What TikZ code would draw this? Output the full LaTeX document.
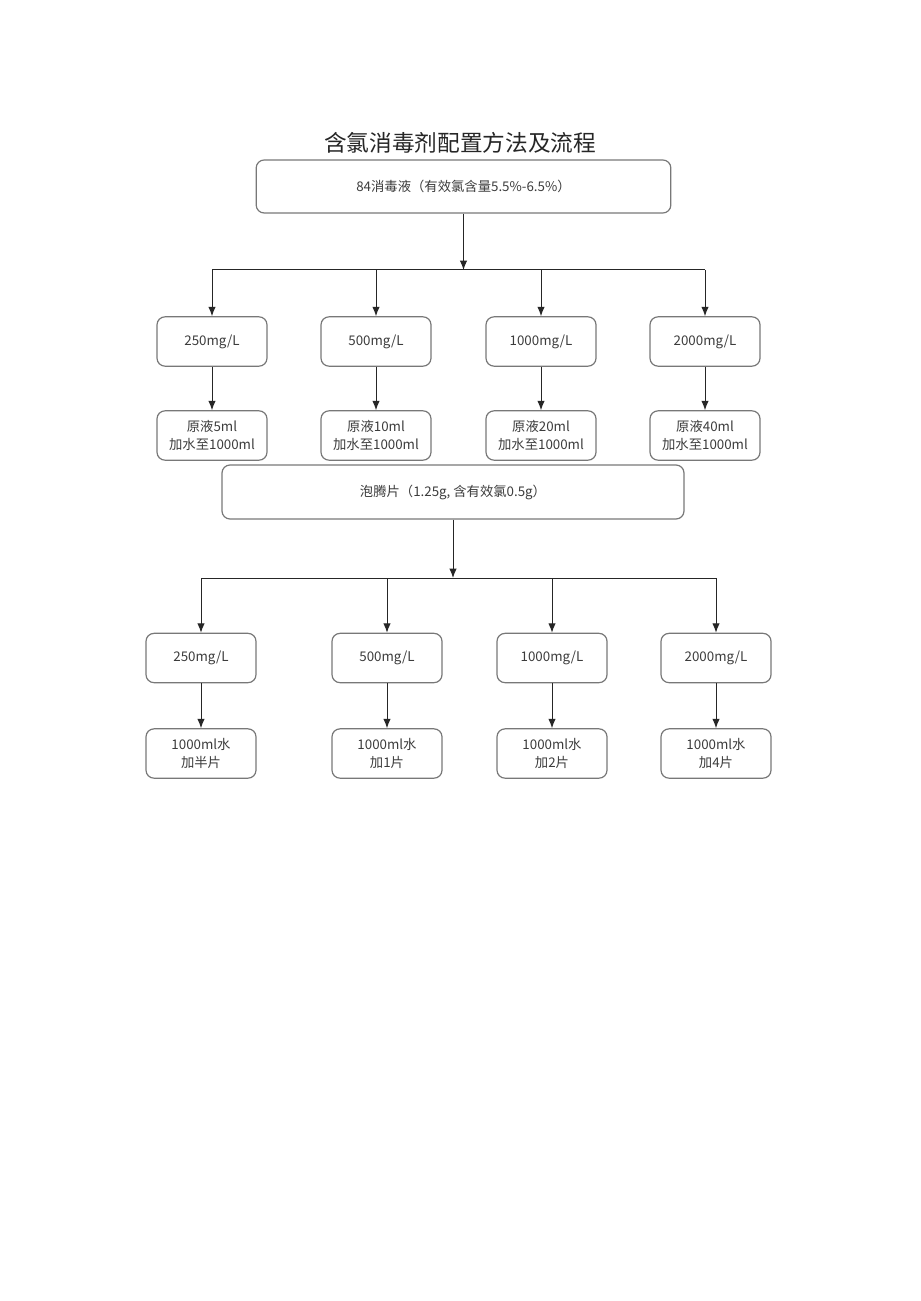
\documentclass[tikz,border=0pt]{standalone}
\usepackage{fontspec}
\usepackage{tikz}
\usetikzlibrary{arrows.meta}
\newfontfamily\cjk{Noto Sans CJK SC}
\definecolor{boxgray}{RGB}{120,120,120}
\definecolor{txtgray}{RGB}{60,60,60}
\tikzset{
    rbox/.style={draw=boxgray, line width=0.9pt, rounded corners=6pt, align=center,
        text=txtgray, font=\cjk\fontsize{10}{13}\selectfont, inner sep=0.75pt},
    smallbox/.style={rbox, minimum width=82.5pt, minimum height=37pt},
    wideline/.style={draw=black!85, line width=0.75pt},
    arr/.style={wideline, -{Latex[length=7pt,width=5.5pt]}}
}

\begin{document}
\begin{tikzpicture}[x=0.75pt,y=0.75pt,yscale=-1,xscale=1]
    \useasboundingbox (0,0) rectangle (920,1301);
    \fill[white] (0,0) rectangle (920,1301);

    % Text Node
    \node (title) at (460,143) [inner sep=0.75pt, text=black!85, font=\cjk\fontsize{17}{20}\selectfont] {含氯消毒剂配置方法及流程};

    % Shape: Rectangle
    \node (liq) at (463.5,186.5) [rbox, minimum width=311pt, minimum height=39.75pt] {84消毒液（有效氯含量5.5\%-6.5\%）};
    \coordinate (j1) at (463.5,270);

    % Row one
    \node (a1) at (212,341.5) [smallbox] {250mg/L};
    \node (a2) at (376,341.5) [smallbox] {500mg/L};
    \node (a3) at (541,341.5) [smallbox] {1000mg/L};
    \node (a4) at (705,341.5) [smallbox] {2000mg/L};

    % Row two
    \node (b1) at (212,435.5) [smallbox] {原液5ml\\加水至1000ml};
    \node (b2) at (376,435.5) [smallbox] {原液10ml\\加水至1000ml};
    \node (b3) at (541,435.5) [smallbox] {原液20ml\\加水至1000ml};
    \node (b4) at (705,435.5) [smallbox] {原液40ml\\加水至1000ml};

    % Shape: Rectangle
    \node (tab) at (453,492) [rbox, minimum width=346.5pt, minimum height=40.5pt] {泡腾片（1.25g, 含有效氯0.5g）};
    \coordinate (j2) at (453,578);

    % Row three
    \node (c1) at (201,658) [smallbox] {250mg/L};
    \node (c2) at (387,658) [smallbox] {500mg/L};
    \node (c3) at (552,658) [smallbox] {1000mg/L};
    \node (c4) at (716,658) [smallbox] {2000mg/L};

    % Row four
    \node (d1) at (201,753.5) [smallbox] {1000ml水\\加半片};
    \node (d2) at (387,753.5) [smallbox] {1000ml水\\加1片};
    \node (d3) at (552,753.5) [smallbox] {1000ml水\\加2片};
    \node (d4) at (716,753.5) [smallbox] {1000ml水\\加4片};

    % Connectors
    \draw[arr] (liq) -- (j1);
    \draw[wideline] (j1 -| a1) -- (j1 -| a4);
    \foreach \i in {1,...,4} {
        \draw[arr] (j1 -| a\i) -- (a\i);
        \draw[arr] (a\i) -- (b\i);
    }
    \draw[arr] (tab) -- (j2);
    \draw[wideline] (j2 -| c1) -- (j2 -| c4);
    \foreach \i in {1,...,4} {
        \draw[arr] (j2 -| c\i) -- (c\i);
        \draw[arr] (c\i) -- (d\i);
    }
\end{tikzpicture}
\end{document}
